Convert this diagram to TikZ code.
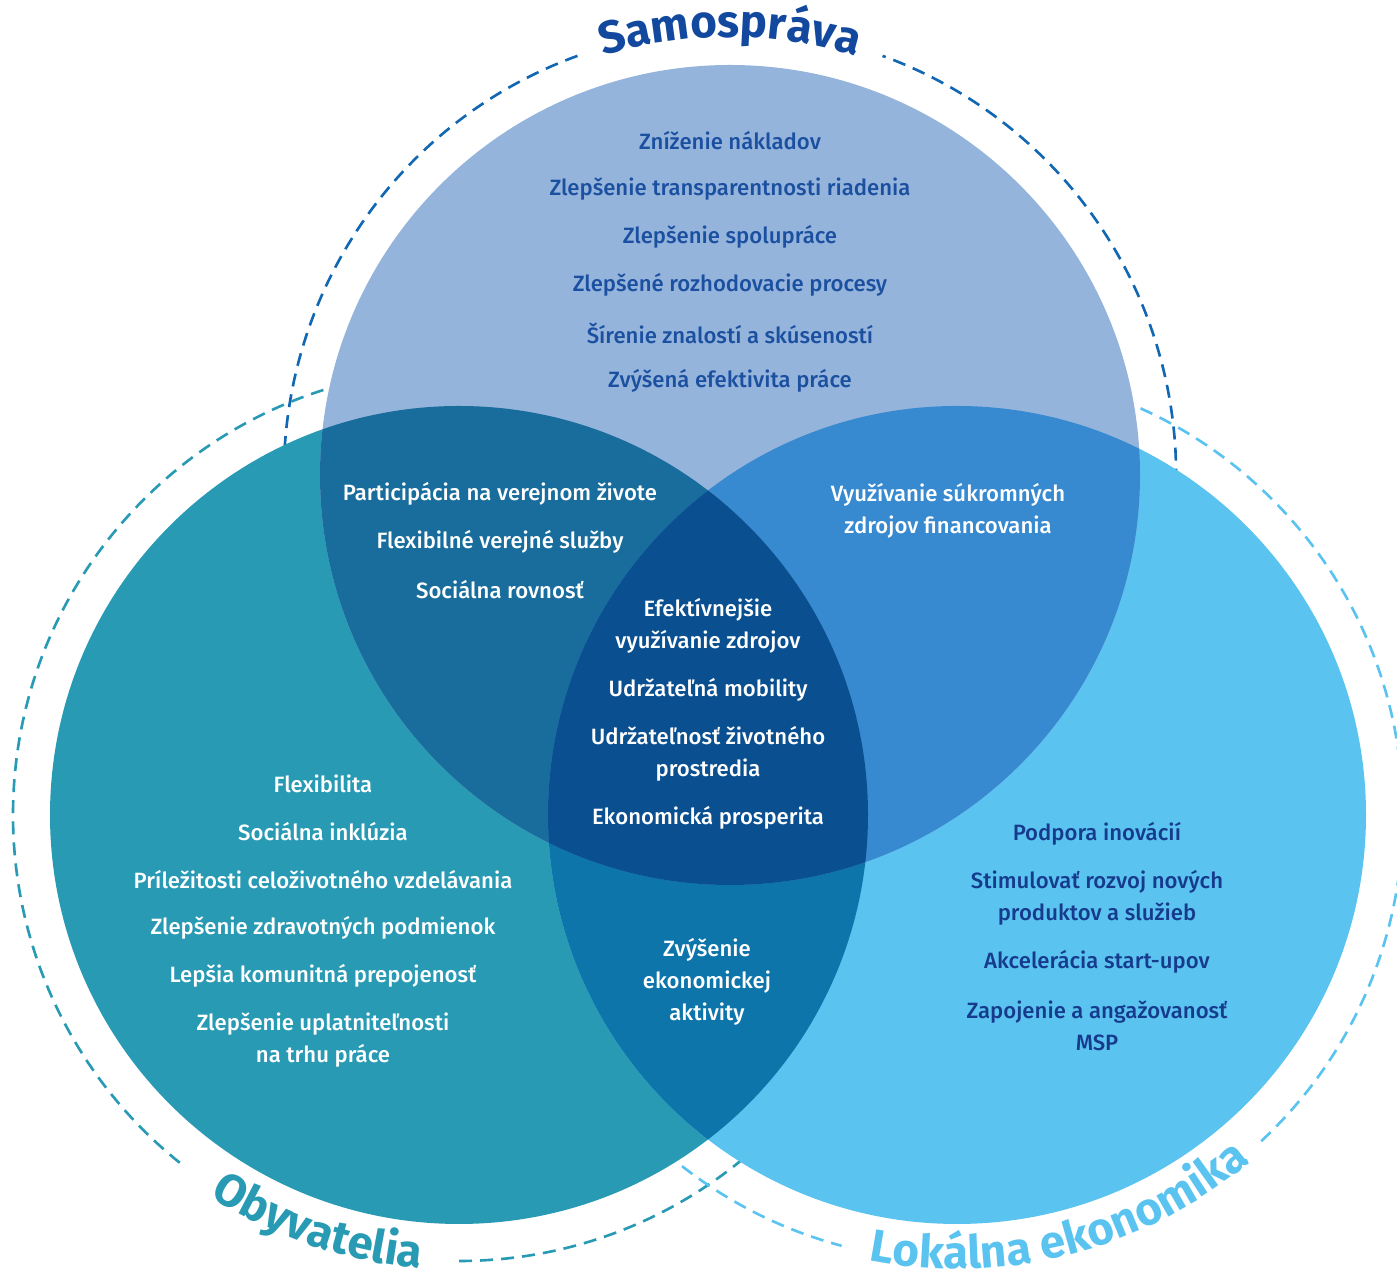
\documentclass[tikz,border=0pt]{standalone}
\usepackage{fontspec}
\setmainfont{Fira Sans}
\newfontfamily\itemfont{Fira Sans Medium}
\usepackage{tikz}
\usetikzlibrary{decorations.text}

\definecolor{samo}{HTML}{95B4DC}
\definecolor{obyv}{HTML}{289AB4}
\definecolor{loke}{HTML}{5AC3F0}
\definecolor{samoobyv}{HTML}{186D9C}
\definecolor{samoloke}{HTML}{3789D0}
\definecolor{obyvloke}{HTML}{0E75AA}
\definecolor{allthree}{HTML}{0A5090}
\definecolor{samotitle}{HTML}{12499F}
\definecolor{samoring}{HTML}{1267B3}
\definecolor{samotext}{HTML}{1B50A0}
\definecolor{loketext}{HTML}{163B8C}

\begin{document}
\begin{tikzpicture}[x=0.02cm, y=0.02cm,
  item/.style={align=center, text=white, inner sep=0pt,
    font=\itemfont\fontsize{12.6}{18.2}\selectfont},
  ring/.style={dash pattern=on 7.4pt off 4.6pt, line width=1.5pt},
  title/.style={decorate, decoration={text along path, text align=center,
    text color=#1}}]
      \useasboundingbox (0,0) rectangle (1397,1280);
      \coordinate (cT) at (730,805);
      \coordinate (cL) at (459,465);
      \coordinate (cR) at (957,465);

      \draw[ring, samoring] (cT) ++(110:446) arc (110:430:446);
      \draw[ring, obyv] (cL) ++(270:446) arc (270:592:446);
      \draw[ring, loke] (cR) ++(313:446) arc (313:615:446);

      \fill[obyv] (cL) circle (409);
      \fill[loke] (cR) circle (409);
      \fill[samo] (cT) circle (410);
      \begin{scope}
        \clip (cL) circle (409);
        \fill[obyvloke] (cR) circle (409);
      \end{scope}
      \begin{scope}
        \clip (cT) circle (410);
        \fill[samoobyv] (cL) circle (409);
        \fill[samoloke] (cR) circle (409);
        \clip (cL) circle (409);
        \fill[allthree] (cR) circle (409);
      \end{scope}

      \path[title=samotitle, decoration={text={|\bfseries\fontsize{26}{26}\selectfont|Samospráva}}]
        (cT) ++(112:438) arc (112:68:438);
      \path[title=obyv, decoration={text={|\bfseries\fontsize{26}{26}\selectfont|Obyvatelia}}]
        (cL) ++(226:455) arc (226:276:455);
      \path[title=loke, decoration={text={|\bfseries\fontsize{26}{26}\selectfont|Lokálna ekonomika}}]
        (cR) ++(250:454) arc (250:319:454);

      \node[item, text=samotext] (s1) at (730,1139) {Zníženie nákladov};
      \node[item, text=samotext] (s2) at (730,1091) {Zlepšenie transparentnosti riadenia};
      \node[item, text=samotext] (s3) at (730,1043) {Zlepšenie spolupráce};
      \node[item, text=samotext] (s4) at (730,995) {Zlepšené rozhodovacie procesy};
      \node[item, text=samotext] (s5) at (730,947) {Šírenie znalostí a skúseností};
      \node[item, text=samotext] (s6) at (730,899) {Zvýšená efektivita práce};

      \node[item] (so1) at (500,786) {Participácia na verejnom živote};
      \node[item] (so2) at (500,738) {Flexibilné verejné služby};
      \node[item] (so3) at (500,690) {Sociálna rovnosť};

      \node[item] (sl1) at (948,769) {Využívanie súkromných\\zdrojov financovania};

      \node[item] (a1) at (708,654) {Efektívnejšie\\využívanie zdrojov};
      \node[item] (a2) at (708,590) {Udržateľná mobility};
      \node[item] (a3) at (708,526) {Udržateľnosť životného\\prostredia};
      \node[item] (a4) at (708,462) {Ekonomická prosperita};

      \node[item] (o1) at (323,496) {Flexibilita};
      \node[item] (o2) at (323,448) {Sociálna inklúzia};
      \node[item] (o3) at (323,400) {Príležitosti celoživotného vzdelávania};
      \node[item] (o4) at (323,352) {Zlepšenie zdravotných podmienok};
      \node[item] (o5) at (323,304) {Lepšia komunitná prepojenosť};
      \node[item] (o6) at (323,240) {Zlepšenie uplatniteľnosti\\na trhu práce};

      \node[item] (ol1) at (707,298) {Zvýšenie\\ekonomickej\\aktivity};

      \node[item, text=loketext] (l1) at (1097,446) {Podpora inovácií};
      \node[item, text=loketext] (l2) at (1097,382) {Stimulovať rozvoj nových\\produktov a služieb};
      \node[item, text=loketext] (l3) at (1097,318) {Akcelerácia start-upov};
      \node[item, text=loketext] (l4) at (1097,254) {Zapojenie a angažovanosť\\MSP};
\end{tikzpicture}
\end{document}
